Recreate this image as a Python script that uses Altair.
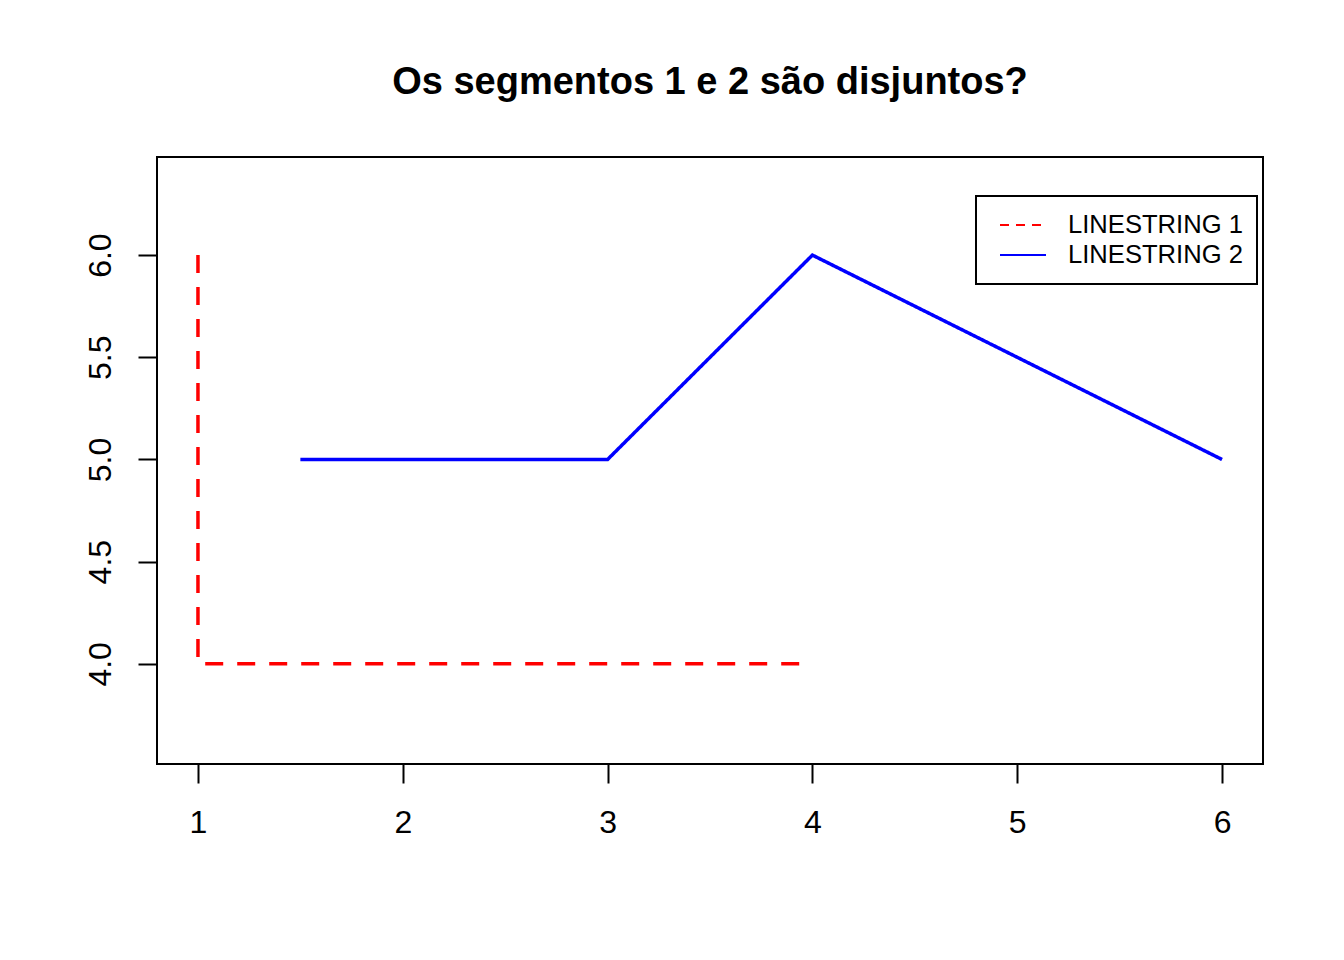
import altair as alt
import pandas as pd

# LINESTRING 1 (red, dashed)
l1_x = [1, 1, 4]
l1_y = [6, 4, 4]
# LINESTRING 2 (blue, solid)
l2_x = [1.5, 3, 4, 6]
l2_y = [5, 5, 6, 5]

series_names = ["LINESTRING 1", "LINESTRING 2"]
x_ticks = [1, 2, 3, 4, 5, 6]
y_ticks = [4.0, 4.5, 5.0, 5.5, 6.0]

rows = []
for name, xs, ys in [(series_names[0], l1_x, l1_y), (series_names[1], l2_x, l2_y)]:
    for i, (x, y) in enumerate(zip(xs, ys)):
        rows.append({"name": name, "dash": name + " ", "x": x, "y": y, "ord": i})
df = pd.DataFrame(rows)

FONT = "Liberation Sans"

chart = alt.Chart(df).mark_line(strokeWidth=3.5, strokeCap="butt").encode(
    x=alt.X("x:Q",
            scale=alt.Scale(domain=[0.8, 6.2], nice=False, zero=False),
            axis=alt.Axis(values=x_ticks, format="d", title=None, grid=False, domain=False,
                          tickSize=19, tickWidth=2, tickColor="black",
                          labelFont=FONT, labelFontSize=32, labelColor="black",
                          labelPadding=24)),
    y=alt.Y("y:Q",
            scale=alt.Scale(domain=[3.51, 6.48], nice=False, zero=False),
            axis=alt.Axis(values=y_ticks, format=".1f", title=None, grid=False, domain=False,
                          tickSize=19, tickWidth=2, tickColor="black",
                          labelFont=FONT, labelFontSize=32, labelColor="black",
                          labelAngle=270, labelAlign="center", labelBaseline="alphabetic",
                          labelPadding=28)),
    color=alt.Color("name:N",
                    scale=alt.Scale(domain=series_names, range=["#FF0000", "#0000FF"]),
                    legend=alt.Legend(
                        title=None, orient="none", legendX=819, legendY=39,
                        direction="vertical", symbolType="stroke", symbolSize=2116,
                        symbolStrokeWidth=2, symbolOffset=9,
                        symbolDash={"expr": "datum.value === 'LINESTRING 1' ? [9, 7] : [1, 0]"},
                        labelFont=FONT, labelFontSize=25.6, labelColor="black",
                        labelLimit=400, labelOffset=21, padding=14, rowPadding=0,
                        clipHeight=30,
                        strokeColor="black", fillColor="white", cornerRadius=0)),
    strokeDash=alt.StrokeDash("dash:N",
                              scale=alt.Scale(domain=[n + " " for n in series_names],
                                              range=[[18, 14], [1, 0]]),
                              legend=None),
    order="ord:Q",
).properties(
    width=1106,
    height=607,
    autosize=alt.AutoSizeParams(type="none"),
    padding={"left": 157, "top": 157, "right": 81, "bottom": 196},
    title=alt.TitleParams("Os segmentos 1 e 2 são disjuntos?", font=FONT, fontSize=38,
                          fontWeight="bold", color="black", anchor="middle",
                          baseline="alphabetic", offset=25),
).configure(background="white").configure_view(stroke="black", strokeWidth=2).configure_legend(strokeWidth=2)

chart.save("out.html", embed_options={"renderer": "svg", "actions": False})
